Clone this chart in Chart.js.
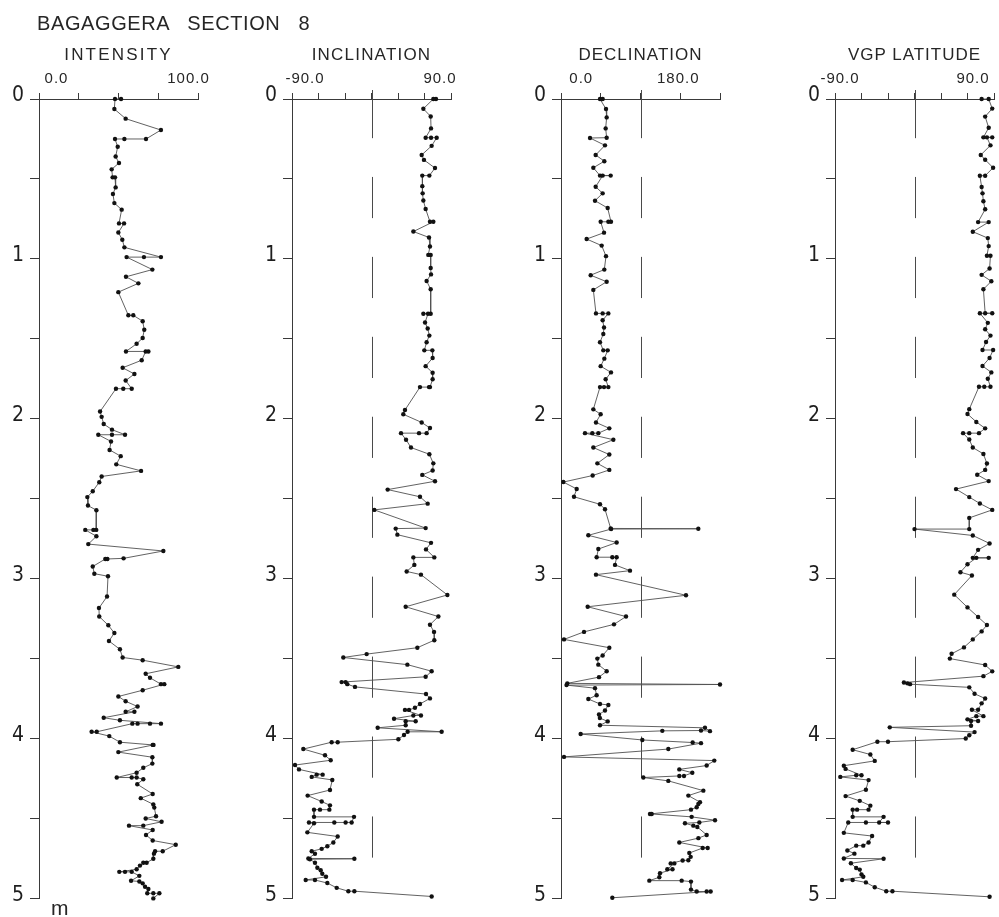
<!DOCTYPE html>
<html><head><meta charset="utf-8">
<script src="https://cdn.jsdelivr.net/npm/chart.js@4.4.1/dist/chart.umd.min.js"></script>
<style>
html,body{margin:0;padding:0;background:#fff;}
#wrap{position:relative;width:999px;height:917px;overflow:hidden;background:#fff;}
#wrap canvas{position:absolute;top:0;}
.t{position:absolute;white-space:pre;color:#262626;font-family:"Liberation Sans",Arial,sans-serif;line-height:normal;}
</style></head><body><div id="wrap"></div>
<script>
// ---------------- DATA (depth in m) ----------------
const chartTitle = "BAGAGGERA SECTION 8";
const panelTitles = ["INTENSITY", "INCLINATION", "DECLINATION", "VGP LATITUDE"];
const depthTickLabels = ["0", "1", "2", "3", "4", "5"];

const intensityDepth = [
0,0,0.063,0.123,0.194,0.25,0.25,0.25,0.299,0.36,
0.40,0.44,0.49,0.49,0.553,0.594,0.651,0.692,0.778,0.778,
0.835,0.88,0.928,0.989,0.989,0.989,1.067,1.112,1.153,1.208,
1.353,1.353,1.39,1.443,1.495,1.531,1.579,1.579,1.579,1.634,
1.681,1.72,1.761,1.812,1.812,1.812,1.955,1.988,2.033,2.068,
2.10,2.10,2.10,2.142,2.195,2.234,2.285,2.326,2.361,2.397,
2.453,2.49,2.543,2.572,2.695,2.695,2.695,2.735,2.784,2.827,
2.873,2.877,2.877,2.924,2.969,2.985,3.112,3.184,3.237,3.292,
3.34,3.39,3.442,3.493,3.51,3.552,3.595,3.62,3.66,3.66,
3.698,3.737,3.767,3.80,3.833,3.833,3.87,3.886,3.907,3.907,
3.907,3.907,3.958,3.958,3.985,4.023,4.04,4.04,4.085,4.117,
4.157,4.183,4.214,4.244,4.244,4.244,4.255,4.286,4.347,4.373,
4.412,4.432,4.486,4.50,4.521,4.545,4.545,4.572,4.603,4.638,
4.664,4.705,4.705,4.72,4.752,4.777,4.777,4.795,4.818,4.834,
4.834,4.834,4.859,4.89,4.894,4.906,4.927,4.941,4.968,4.968,
4.968,5.0];
const intensityValue = [
51.6,47.8,47.4,54.5,76.7,67.3,53.7,47.8,49.5,48.2,
50.3,45.7,46.3,47.8,48.2,46.5,47.4,52.0,50.3,53.5,
49.9,52.4,53.7,76.7,66.0,55.1,71.3,54.7,62.5,49.9,
56.2,59.3,65.2,66.2,65.2,61.4,54.7,68.8,67.1,64.6,
52.6,60.0,54.5,58.3,53.0,48.4,38.4,39.4,40.7,45.9,
54.1,45.9,37.3,45.3,44.4,51.4,48.6,64.2,39.4,37.9,
33.8,30.4,30.8,36.1,36.0,34.2,29.1,36.1,31.0,78.2,
53.2,43.0,41.7,33.8,34.8,43.4,42.8,37.7,37.9,43.6,
47.4,44.0,50.9,52.6,65.2,87.6,67.1,69.8,76.7,78.8,
65.2,49.9,54.5,62.0,54.5,60.0,40.7,50.9,76.7,69.8,
62.0,58.7,36.3,33.1,44.2,50.9,71.5,72.0,49.9,71.3,
71.3,65.6,61.4,48.9,58.3,61.4,65.6,61.8,71.5,64.0,
71.9,72.5,73.6,67.1,77.1,65.6,56.6,71.5,67.3,71.5,
86.0,77.8,73.0,72.3,71.9,67.7,65.6,63.5,61.4,50.5,
54.1,58.3,63.1,57.9,63.1,65.2,66.7,68.8,68.1,71.9,
75.7,71.9];

const inclinationDepth = [
0,0,0.061,0.109,0.184,0.242,0.242,0.242,0.293,0.35,
0.381,0.432,0.479,0.479,0.545,0.59,0.635,0.688,0.768,0.768,
0.829,0.866,0.923,0.975,0.975,1.057,1.097,1.138,1.19,1.343,
1.343,1.343,1.398,1.435,1.48,1.521,1.572,1.572,1.62,1.671,
1.712,1.753,1.802,1.802,1.802,1.945,1.972,2.023,2.058,2.09,
2.09,2.09,2.131,2.18,2.222,2.279,2.324,2.351,2.391,2.443,
2.488,2.531,2.57,2.684,2.687,2.725,2.776,2.817,2.867,2.867,
2.914,2.955,2.975,3.102,3.176,3.237,3.288,3.333,3.385,3.432,
3.472,3.493,3.538,3.579,3.614,3.647,3.647,3.66,3.677,3.722,
3.749,3.784,3.808,3.821,3.821,3.856,3.856,3.876,3.892,3.892,
3.917,3.933,3.958,3.958,3.978,4.005,4.023,4.023,4.066,4.105,
4.136,4.166,4.193,4.226,4.226,4.24,4.259,4.322,4.357,4.394,
4.418,4.445,4.445,4.445,4.49,4.49,4.525,4.525,4.525,4.525,
4.53,4.587,4.613,4.65,4.674,4.69,4.705,4.721,4.75,4.752,
4.755,4.777,4.808,4.824,4.846,4.865,4.885,4.885,4.904,4.934,
4.955,4.955,4.988];
const inclinationValue = [
73.0,70.0,58.7,67.0,67.4,61.3,67.4,73.8,68.1,56.8,
59.4,71.9,65.5,57.5,57.5,57.9,58.7,61.3,66.2,70.0,
47.4,65.1,66.2,64.3,67.0,67.0,67.4,62.4,67.0,67.0,
58.7,64.0,60.6,63.6,65.5,62.4,59.8,68.9,69.2,61.3,
69.2,69.2,66.2,65.1,54.9,37.9,36.0,56.8,66.2,62.4,
53.8,33.4,39.1,44.7,65.5,70.0,69.2,57.5,71.9,18.3,
54.9,63.6,3.2,61.3,27.4,29.3,67.4,61.7,71.1,47.4,
48.5,39.8,56.0,85.9,38.7,75.7,66.2,70.8,71.1,51.9,
-5.5,-31.9,40.6,68.1,61.3,-33.8,-29.3,-27.4,-18.7,61.7,
66.2,54.9,49.2,42.5,37.9,56.0,47.4,25.5,50.0,38.7,
38.7,7.0,79.4,40.9,36.8,30.4,-38.3,-45.1,-77.2,-52.6,
-46.2,-86.6,-82.1,-55.3,-62.1,-67.7,-44.4,-47.0,-72.3,-56.4,
-47.0,-47.7,-58.3,-65.1,-65.1,-19.8,-22.5,-29.3,-42.1,-70.8,
-65.1,-72.6,-38.3,-43.2,-50.0,-56.4,-67.7,-64.0,-71.5,-19.4,
-69.7,-64.0,-61.3,-57.5,-55.7,-51.5,-74.5,-64.0,-50.0,-39.4,
-26.2,-19.4,68.1];

const declinationDepth = [
0,0,0.063,0.115,0.184,0.242,0.244,0.29,0.35,0.389,
0.43,0.479,0.479,0.479,0.549,0.59,0.636,0.682,0.768,0.768,
0.768,0.836,0.876,0.917,0.983,1.067,1.102,1.143,1.194,1.341,
1.341,1.341,1.384,1.429,1.47,1.521,1.572,1.572,1.624,1.671,
1.71,1.753,1.802,1.802,1.802,1.941,1.972,2.023,2.06,2.09,
2.09,2.09,2.131,2.18,2.224,2.279,2.32,2.355,2.396,2.439,
2.488,2.535,2.566,2.686,2.688,2.69,2.729,2.774,2.815,2.866,
2.866,2.866,2.914,2.95,2.975,3.104,3.176,3.237,3.286,3.333,
3.38,3.432,3.481,3.50,3.538,3.579,3.616,3.655,3.662,3.666,
3.685,3.729,3.753,3.784,3.79,3.825,3.85,3.872,3.893,3.917,
3.933,3.954,3.95,3.952,3.972,4.009,4.025,4.029,4.066,4.115,
4.138,4.169,4.193,4.214,4.234,4.234,4.244,4.265,4.326,4.357,
4.398,4.41,4.43,4.445,4.472,4.472,4.49,4.511,4.525,4.53,
4.545,4.553,4.603,4.623,4.65,4.685,4.685,4.716,4.74,4.761,
4.763,4.781,4.781,4.818,4.818,4.842,4.868,4.889,4.889,4.895,
4.945,4.957,4.957,4.957,4.996];
const declinationValue = [
4.3,-1.7,11.9,13.4,11.1,13.4,-24.3,9.6,-11.5,8.1,
-16.8,-1.7,22.5,4.3,-11.5,4.3,-13,15.7,23.2,17.2,
-0.2,7.4,-31.9,2.1,11.9,8.1,-22.8,13.4,-16.8,-10.8,
4.3,17.2,4.3,7.4,5.8,-1.7,5.8,15.7,8.1,-0.2,
23.2,11.1,17.2,7.4,-1.7,-16.8,-0.2,-10.8,19.4,-5.5,
-19.1,-35.7,28.5,-16.8,19.4,-7.7,19.4,-18.3,-84.7,-54.5,
-60.6,-1.7,9.6,22.5,220.9,23.5,-28.1,36.0,-5.5,-9.3,
26.2,36.0,32.3,66.2,-10.8,193,-29.6,57.2,30,-37.9,
-83.2,19.4,4.3,-7.7,-5.5,13.4,-4,-75.7,270,-77.5,
-13,-9.3,-28.1,-1.7,17.2,9.6,-4,-2,15.7,-1.7,
236,247.3,227,139.4,-45.5,94.1,208.1,227,153,-83.2,
257.1,239.8,177.9,207.3,188.5,177.9,96.4,153,232.3,198.3,
224.7,221,217.2,204.3,111.5,115.3,205.8,258.7,223.2,190.7,
209.6,218.6,239.8,221,177.9,242.1,230.8,200.5,203.6,198.3,
185.4,158.3,166.6,150.7,162.5,134.1,132.6,110,183.2,204.3,
204.3,217.2,239.8,248.8,26.2];

const vgpDepth = [
0,0,0.06,0.11,0.18,0.24,0.24,0.24,0.29,0.35,
0.38,0.43,0.48,0.48,0.55,0.59,0.64,0.69,0.77,0.77,
0.83,0.87,0.92,0.98,0.98,1.06,1.10,1.14,1.19,1.34,
1.34,1.34,1.40,1.44,1.48,1.52,1.57,1.57,1.62,1.67,
1.71,1.75,1.80,1.80,1.80,1.94,1.97,2.02,2.06,2.09,
2.09,2.09,2.13,2.18,2.22,2.28,2.32,2.35,2.39,2.44,
2.49,2.53,2.57,2.62,2.69,2.69,2.73,2.78,2.82,2.87,
2.87,2.87,2.91,2.96,2.98,3.10,3.18,3.24,3.29,3.33,
3.38,3.43,3.47,3.50,3.54,3.58,3.61,3.65,3.655,3.66,
3.68,3.72,3.75,3.78,3.82,3.82,3.86,3.86,3.88,3.89,
3.89,3.92,3.93,3.96,3.98,4.00,4.02,4.02,4.07,4.10,
4.14,4.17,4.19,4.23,4.23,4.24,4.26,4.32,4.36,4.39,
4.42,4.445,4.445,4.445,4.49,4.49,4.525,4.525,4.525,4.525,
4.59,4.61,4.65,4.67,4.67,4.70,4.72,4.75,4.752,4.78,
4.81,4.82,4.85,4.865,4.885,4.885,4.90,4.93,4.955,4.955,
4.99];
const vgpValue = [
76,84,88,80,84,78,88,82,86,75,
80,89,80,74,76,77,78,80,72,84,
66,83,84,82,86,85,76,87,78,80,
88,74,83,80,86,81,77,89,85,77,
87,83,86,79,73,62,60,70,80,73,
62,55,62,66,78,82,80,71,84,47,
62,74,88,62,62,0,66,85,72,66,
84,70,60,52,65,45,60,72,82,76,
66,56,42,40,80,88,78,-12,-8,-5,
62,68,80,76,72,65,78,70,60,72,
64,64,-28,68,62,58,-30,-42,-70,-50,
-45,-80,-78,-60,-66,-84,-52,-55,-78,-62,
-50,-52,-65,-70,-70,-35,-40,-30,-55,-75,
-80,-48,-52,-58,-66,-76,-68,-80,-35,-72,
-66,-62,-60,-58,-82,-70,-55,-45,-32,-25,
85];

// ---------------- LAYOUT ----------------
const W = 999, H = 917;
const TOP = 99, BOTTOM = 913, YAXIS_W = 39;
const NARROW = '"Liberation Sans Narrow","DejaVu Sans Condensed","Liberation Sans",sans-serif';
const SANS = '"Liberation Sans",Arial,sans-serif';

const panels = [
  {title: panelTitles[0], titleLs: 2.2, depth: intensityDepth, value: intensityValue, min: 0, max: 100, step: 25, ref: null,
   labels: [["0.0", 0, 17.5], ["100.0", 100, -9.5]], axisLeft: 39, axisRight: 198},
  {title: panelTitles[1], titleLs: 1.2, depth: inclinationDepth, value: inclinationValue, min: -90, max: 90, step: 30, ref: 0,
   labels: [["-90.0", -90, 13], ["90.0", 90, -11]], axisLeft: 292, axisRight: 451},
  {title: panelTitles[2], titleLs: 1.0, depth: declinationDepth, value: declinationValue, min: -90, max: 270, step: 90, ref: 90,
   labels: [["0.0", 0, -19.5], ["180.0", 180, -2]], axisLeft: 561, axisRight: 720},
  {title: panelTitles[3], titleLs: 1.0, depth: vgpDepth, value: vgpValue, min: -90, max: 90, step: 30, ref: 0,
   labels: [["-90.0", -90, 5], ["90.0", 90, -21]], axisLeft: 835, axisRight: 994}
];

const wrap = document.getElementById('wrap');
function addText(txt, x, baseline, size, family, ls, center, ws) {
  const d = document.createElement('div');
  d.className = 't';
  d.textContent = txt;
  d.style.fontSize = size + 'px';
  d.style.fontFamily = family;
  d.style.letterSpacing = ls + 'px';
  if (ws) d.style.wordSpacing = ws + 'px';
  d.style.lineHeight = size + 'px';
  d.style.top = (baseline - 0.8465 * size) + 'px';
  d.style.left = x + 'px';
  if (center) d.style.transform = 'translateX(-50%)';
  wrap.appendChild(d);
}

const decor = {
  id: 'decor',
  beforeDatasetsDraw(chart, args, o) {
    if (o.ref === null || o.ref === undefined) return;
    const ctx = chart.ctx, xs = chart.scales.x, ys = chart.scales.y;
    const x = Math.round(xs.getPixelForValue(o.ref)) + 0.5;
    ctx.save();
    ctx.strokeStyle = '#4a4a4a';
    ctx.lineWidth = 1;
    for (let k = 0; k < 10; k++) {
      const d = k * 0.5;
      const y0 = ys.getPixelForValue(d) - (k === 0 ? 9 : 2);
      const y1 = ys.getPixelForValue(d + 0.245);
      ctx.beginPath(); ctx.moveTo(x, y0); ctx.lineTo(x, y1); ctx.stroke();
    }
    ctx.restore();
  },
  afterDraw(chart, args, o) {
    const ctx = chart.ctx, xs = chart.scales.x;
    ctx.save();
    ctx.fillStyle = '#262626';
    ctx.font = '15px ' + SANS;
    ctx.textAlign = 'center';
    ctx.textBaseline = 'alphabetic';
    if ('letterSpacing' in ctx) ctx.letterSpacing = '1px';
    o.labels.forEach(([t, v, dx]) => ctx.fillText(t, xs.getPixelForValue(v) + dx, 83));
    ctx.restore();
  }
};

panels.forEach((p) => {
  const left = p.axisLeft - YAXIS_W;
  const right = Math.min(W, p.axisRight + 42);
  const cw = right - left;
  const cv = document.createElement('canvas');
  cv.width = cw; cv.height = H;
  cv.style.left = left + 'px';
  cv.style.width = cw + 'px'; cv.style.height = H + 'px';
  wrap.appendChild(cv);
  const pts = p.depth.map((d, i) => ({x: p.value[i], y: d}));
  new Chart(cv.getContext('2d'), {
    type: 'scatter',
    data: {datasets: [{
      data: pts, showLine: true, borderColor: '#505050', borderWidth: 0.9,
      pointRadius: 2.2, pointBackgroundColor: '#111', pointBorderWidth: 0,
      clip: false, tension: 0
    }]},
    plugins: [decor],
    options: {
      responsive: false, animation: false, maintainAspectRatio: false,
      devicePixelRatio: 1,
      layout: {padding: {left: 0, top: 0, right: right - p.axisRight, bottom: H - BOTTOM}},
      plugins: {legend: {display: false}, tooltip: {enabled: false},
                decor: {ref: p.ref, labels: p.labels}},
      scales: {
        x: {
          type: 'linear', position: 'top', min: p.min, max: p.max,
          ticks: {stepSize: p.step, display: false},
          grid: {display: true, drawOnChartArea: false, drawTicks: true, tickLength: 6, color: '#3a3a3a', lineWidth: 1},
          border: {display: true, color: '#3a3a3a', width: 1},
          afterFit: (s) => { s.height = TOP; }
        },
        y: {
          type: 'linear', position: 'left', reverse: true, min: 0, max: 5,
          ticks: {stepSize: 0.5, autoSkip: false, padding: 6, labelOffset: -3, color: '#1e1e1e',
                  font: {family: NARROW, size: 21},
                  callback: (v) => Number.isInteger(v) ? depthTickLabels[v] : ''},
          grid: {display: true, drawOnChartArea: false, drawTicks: true, tickLength: 9, color: '#3a3a3a', lineWidth: 1},
          border: {display: true, color: '#3a3a3a', width: 1},
          afterFit: (s) => { s.width = YAXIS_W; }
        }
      }
    }
  });
  addText(p.title, (p.axisLeft + p.axisRight) / 2, 60, 17, SANS, p.titleLs, true);
});

addText(chartTitle, 37, 30, 20, SANS, 0.6, false, 12);
addText("m", 51, 915, 21, SANS, 0, false);
</script>
</body></html>
